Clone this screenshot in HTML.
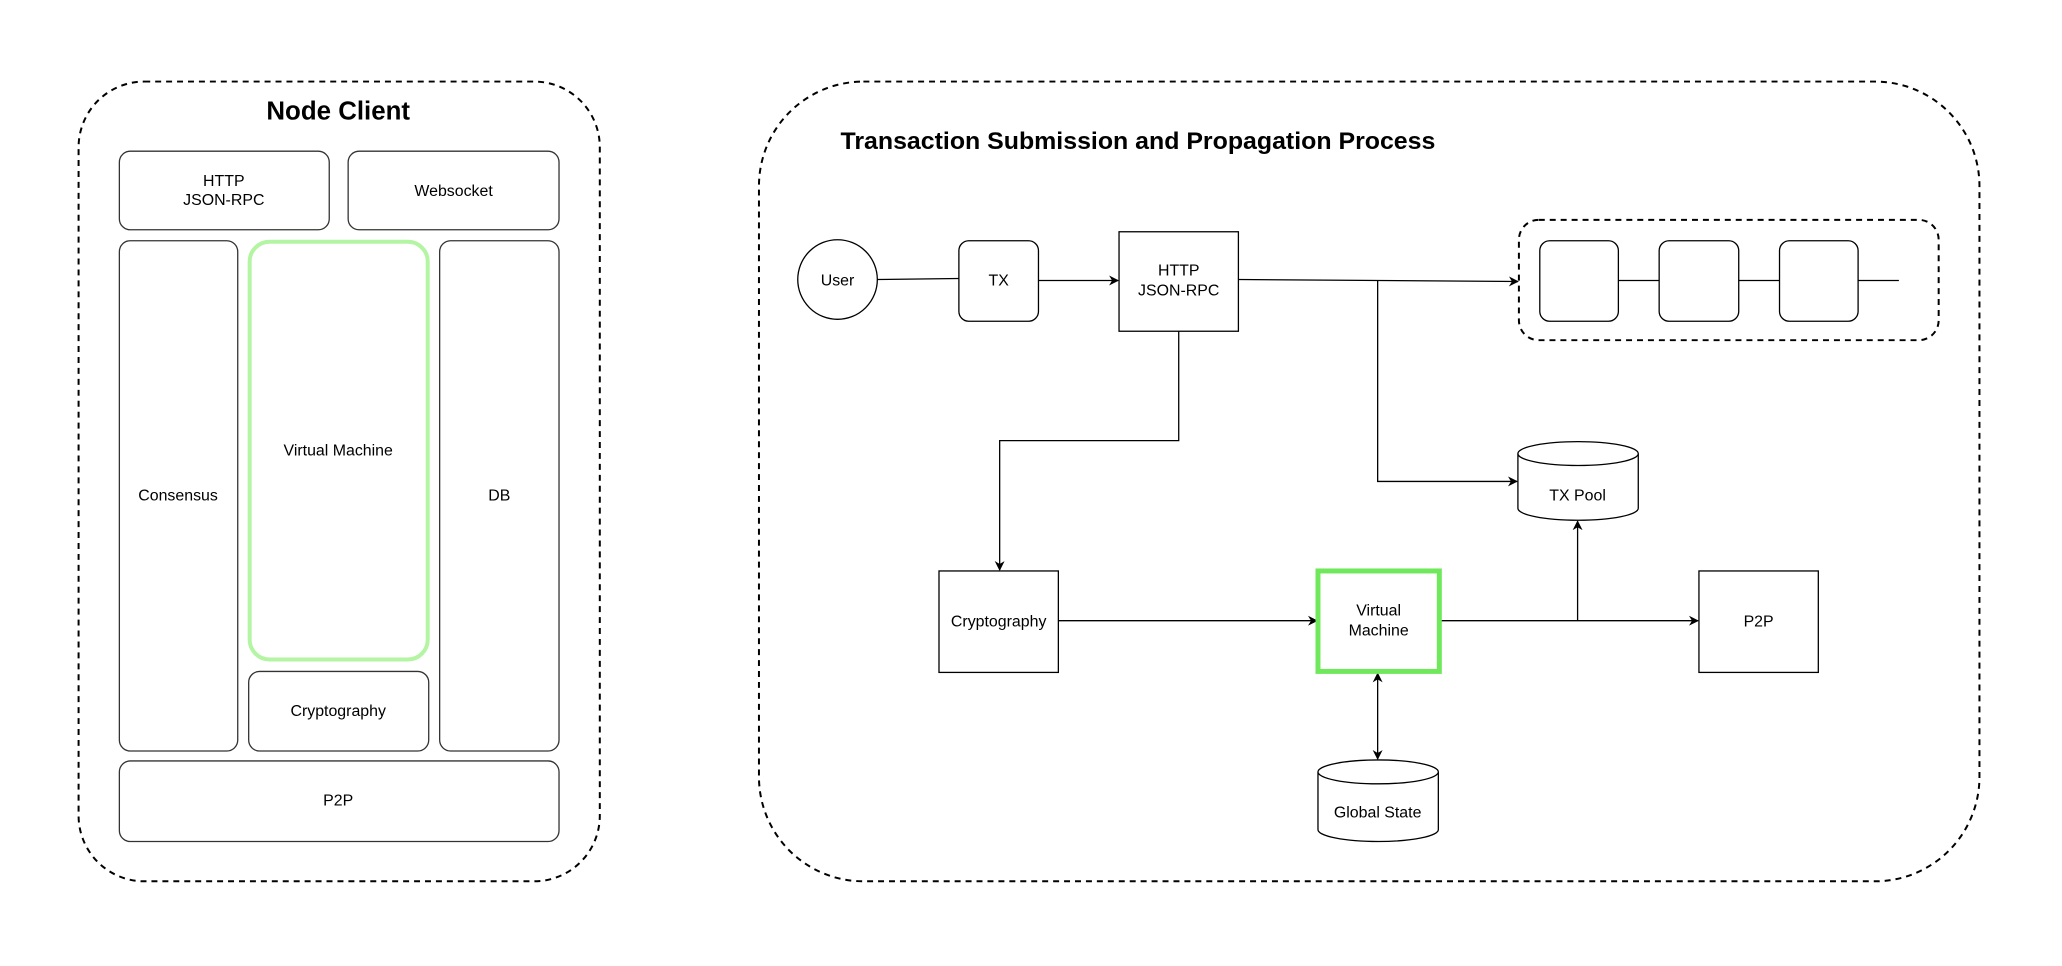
<!DOCTYPE html>
<html><head><meta charset="utf-8"><style>
html,body{margin:0;padding:0;background:#fff;}
svg{display:block;}
text{font-family:"Liberation Sans",Arial,sans-serif;fill:#000;}
</style></head><body>
<svg width="2062" height="966" viewBox="0 0 2062 966" xmlns="http://www.w3.org/2000/svg">
<defs>
<marker id="a" markerWidth="10" markerHeight="10" refX="9" refY="5" orient="auto" markerUnits="userSpaceOnUse">
<path d="M0,0 L10,5 L0,10 L3,5 Z" fill="#000"/></marker>
<marker id="b" markerWidth="10" markerHeight="10" refX="1" refY="5" orient="auto" markerUnits="userSpaceOnUse">
<path d="M10,0 L0,5 L10,10 L7,5 Z" fill="#000"/></marker>
</defs>
<rect width="2062" height="966" fill="#fff"/>
<g transform="scale(0.9947)">
<!-- Left container -->
<rect x="79" y="82" width="524" height="804" rx="66" fill="none" stroke="#000" stroke-width="2" stroke-dasharray="6,5"/>
<text x="340" y="120" font-size="26" font-weight="bold" text-anchor="middle">Node Client</text>
<g fill="#fff" stroke="#333" stroke-width="1.3">
<rect x="120" y="152" width="211" height="79" rx="11"/>
<rect x="350" y="152" width="212" height="79" rx="11"/>
<rect x="120" y="242" width="119" height="513" rx="11"/>
<rect x="250" y="675" width="181" height="80" rx="11"/>
<rect x="442" y="242" width="120" height="513" rx="11"/>
<rect x="120" y="765" width="442" height="81" rx="11"/>
</g>
<rect x="251" y="243" width="179" height="420" rx="20" fill="#fff" stroke="#b3f5a3" stroke-width="4"/>
<g font-size="16" text-anchor="middle">
<text x="225" y="187">HTTP</text><text x="225" y="206">JSON-RPC</text>
<text x="456" y="197">Websocket</text>
<text x="179" y="503">Consensus</text>
<text x="340" y="458">Virtual Machine</text>
<text x="340" y="720">Cryptography</text>
<text x="502" y="503">DB</text>
<text x="340" y="810">P2P</text>
</g>
<!-- Right container -->
<rect x="763" y="82" width="1227" height="804" rx="105" fill="none" stroke="#000" stroke-width="2" stroke-dasharray="6,5"/>
<text x="845" y="150" font-size="24" font-weight="bold" textLength="598" lengthAdjust="spacingAndGlyphs">Transaction Submission and Propagation Process</text>
<!-- chain -->
<rect x="1527" y="221" width="422" height="121" rx="20" fill="none" stroke="#000" stroke-width="2" stroke-dasharray="6,5"/>
<line x1="1627" y1="282" x2="1909" y2="282" stroke="#000" stroke-width="1.3"/>
<g fill="#fff" stroke="#000" stroke-width="1.3">
<rect x="1548" y="242" width="79" height="81" rx="10"/>
<rect x="1668" y="242" width="80" height="81" rx="10"/>
<rect x="1789" y="242" width="79" height="81" rx="10"/>
</g>
<!-- connectors -->
<g fill="none" stroke="#000" stroke-width="1.3">
<line x1="882" y1="281" x2="964" y2="280"/>
<line x1="1044" y1="282" x2="1124" y2="282" marker-end="url(#a)"/>
<line x1="1245" y1="281" x2="1526" y2="283" marker-end="url(#a)"/>
<polyline points="1385,282 1385,484 1525,484" marker-end="url(#a)"/>
<polyline points="1185,333 1185,443 1005,443 1005,573" marker-end="url(#a)"/>
<line x1="1064" y1="624" x2="1324" y2="624" marker-end="url(#a)"/>
<line x1="1448" y1="624" x2="1707" y2="624" marker-end="url(#a)"/>
<line x1="1586" y1="624" x2="1586" y2="524" marker-end="url(#a)"/>
<line x1="1385" y1="677" x2="1385" y2="763" marker-start="url(#b)" marker-end="url(#a)"/>
</g>
<!-- nodes -->
<g fill="#fff" stroke="#000" stroke-width="1.3">
<circle cx="842" cy="281" r="40"/>
<rect x="964" y="242" width="80" height="81" rx="10"/>
<rect x="1125" y="233" width="120" height="100"/>
<rect x="944" y="574" width="120" height="102"/>
<rect x="1708" y="574" width="120" height="102"/>
<path d="M1526,456 L1526,511 A60.5,12 0 0 0 1647,511 L1647,456"/>
<ellipse cx="1586.5" cy="456" rx="60.5" ry="12"/>
<path d="M1325,776 L1325,834 A60.5,12 0 0 0 1446,834 L1446,776"/>
<ellipse cx="1385.5" cy="776" rx="60.5" ry="12"/>
</g>
<rect x="1325" y="574" width="122" height="101" fill="#fff" stroke="#6fe85c" stroke-width="5"/>
<g font-size="16" text-anchor="middle">
<text x="842" y="287">User</text>
<text x="1004" y="287">TX</text>
<text x="1185" y="277">HTTP</text><text x="1185" y="297">JSON-RPC</text>
<text x="1004" y="630">Cryptography</text>
<text x="1386" y="619">Virtual</text><text x="1386" y="639">Machine</text>
<text x="1768" y="630">P2P</text>
<text x="1586" y="503">TX Pool</text>
<text x="1385" y="822">Global State</text>
</g>
</g>
</svg>
</body></html>
